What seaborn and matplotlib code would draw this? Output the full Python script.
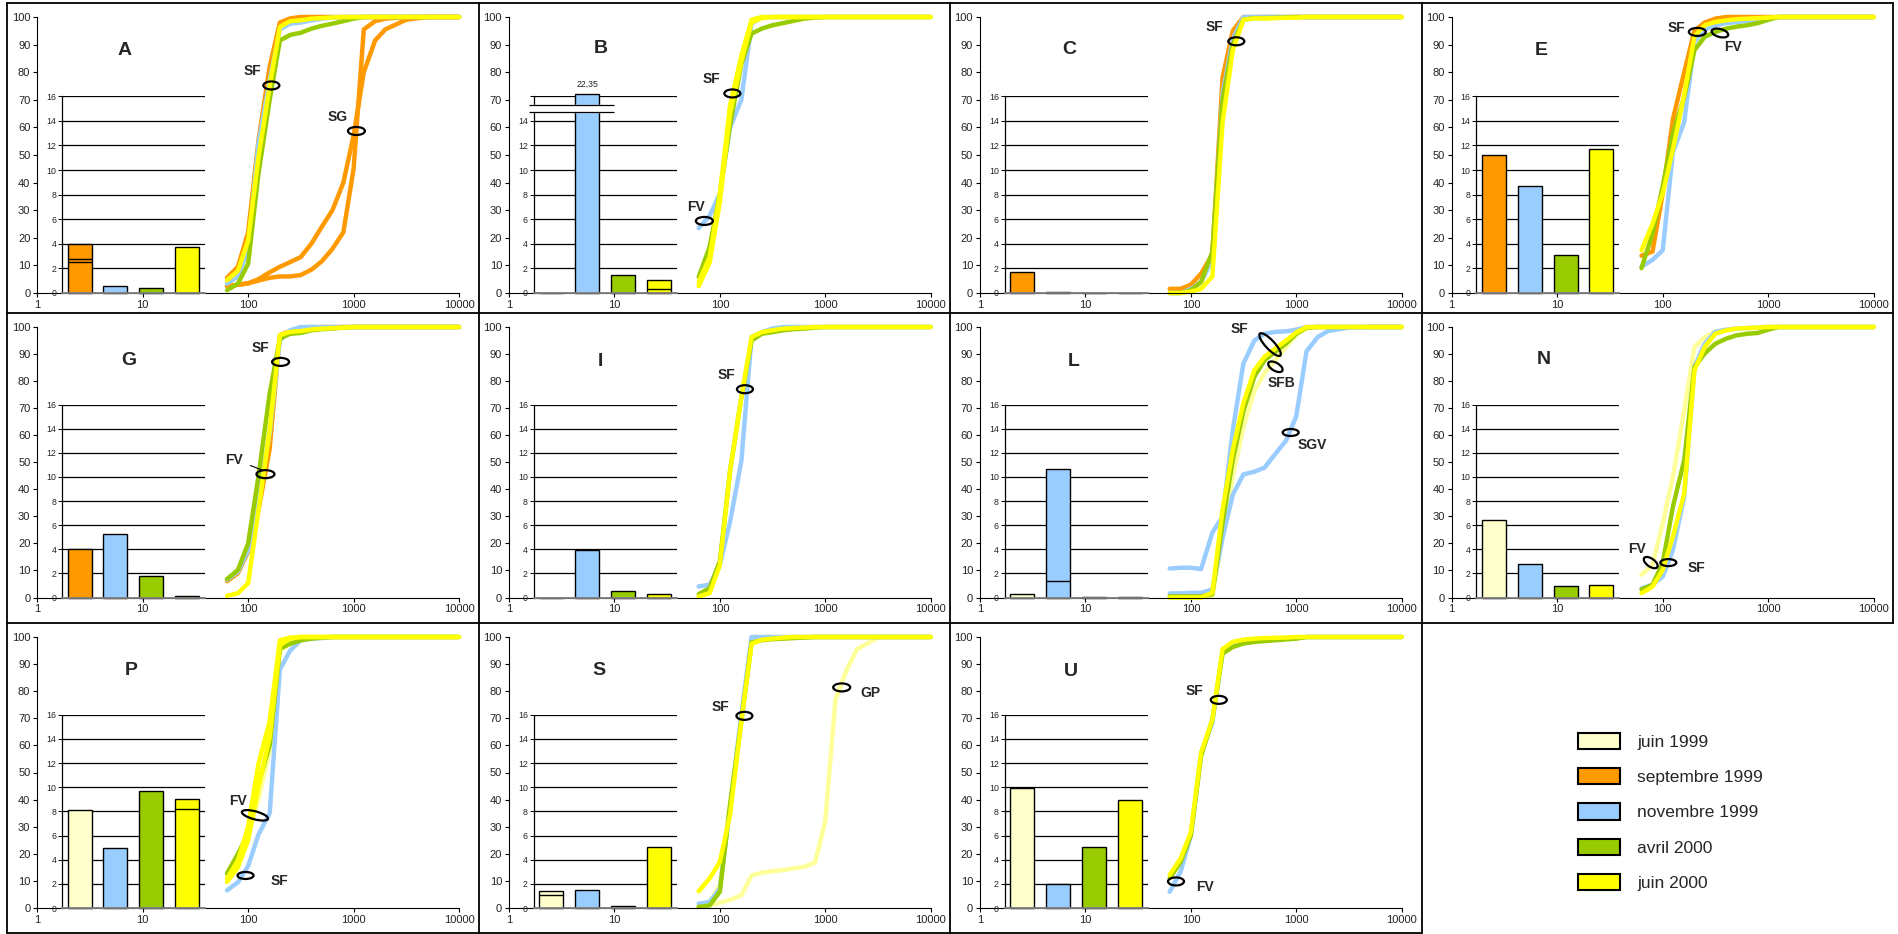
import numpy as np
import matplotlib
matplotlib.use("Agg")
import matplotlib.pyplot as plt
import matplotlib.transforms as mtransforms
from matplotlib.patches import Ellipse, Patch
from matplotlib.lines import Line2D
from matplotlib.ticker import NullLocator
import seaborn as sns

sns.set_theme(style="white")
plt.rcParams["font.family"] = ["Liberation Sans", "DejaVu Sans"]

# === Données : courbes granulométriques cumulées (%) ===
tamis = [63, 80, 100, 125, 160, 200, 250, 315, 400, 500, 630, 800, 1000, 1250, 1600, 2000, 3150, 5000, 10000]

A_sept_SF = [5.5, 9.5, 22, 55, 82, 98, 99.5, 100, 100, 100, 100, 100, 100, 100, 100, 100, 100, 100, 100]
A_sept_SG1 = [2.5, 3, 3.5, 5, 7.5, 9.5, 11.2, 13, 18, 24, 30, 40, 57, 80, 91.5, 95.5, 99, 100, 100]
A_sept_SG2 = [2.5, 3, 3.5, 4.5, 5.5, 6, 6, 6.5, 8.5, 11.5, 16, 22, 45, 95.5, 98.5, 99.4, 100, 100, 100]
A_nov = [3.4, 6, 16, 54, 77, 95.5, 97.6, 98, 98.8, 99.4, 99.8, 100, 100, 100, 100, 100, 100, 100, 100]
A_avr = [1, 3.4, 10.6, 43, 70, 91.5, 93.5, 94.3, 95.8, 96.8, 97.6, 98.5, 99.4, 100, 100, 100, 100, 100, 100]
A_juin00 = [4.6, 8, 19, 49, 75, 96.4, 98.5, 98.8, 99.4, 99.6, 99.8, 100, 100, 100, 100, 100, 100, 100, 100]

B_nov = [23.5, 28, 36, 60, 70, 97.6, 100, 100, 100, 100, 100, 100, 100, 100, 100, 100, 100, 100, 100]
B_avr = [5.8, 16.7, 36, 61, 83, 94, 95.8, 97, 97.8, 98.6, 99.4, 99.8, 100, 100, 100, 100, 100, 100, 100]
B_juin00a = [2.5, 11, 33, 65, 84, 98, 99.6, 100, 100, 100, 100, 100, 100, 100, 100, 100, 100, 100, 100]
B_juin00b = [4, 13, 36, 68, 86, 99, 100, 100, 100, 100, 100, 100, 100, 100, 100, 100, 100, 100, 100]

C_sept = [1.5, 1.5, 3, 7, 14, 78, 95, 100, 100, 100, 100, 100, 100, 100, 100, 100, 100, 100, 100]
C_nov = [0, 0, 1.5, 4, 12, 72, 92, 100, 100, 100, 100, 100, 100, 100, 100, 100, 100, 100, 100]
C_avr = [0, 0, 1, 4, 15, 70, 90, 99, 99.6, 99.6, 99.7, 99.8, 100, 100, 100, 100, 100, 100, 100]
C_juin00 = [0, 0, 0.5, 1.5, 6, 62, 88, 99, 99.5, 99.5, 99.6, 99.7, 99.8, 100, 100, 100, 100, 100, 100]

E_sept = [13.5, 15, 36, 63, 80, 95, 98, 99.4, 100, 100, 100, 100, 100, 100, 100, 100, 100, 100, 100]
E_nov = [9.5, 12, 15.5, 51, 62, 91, 95.5, 97, 97.8, 98.2, 98.6, 99, 99.5, 100, 100, 100, 100, 100, 100]
E_avr = [9, 21.5, 38.6, 57.8, 71, 88, 92.8, 94.6, 95.8, 96.5, 97, 97.8, 99, 100, 100, 100, 100, 100, 100]
E_juin00 = [15.5, 25, 36, 52, 72, 93, 97, 98.2, 98.8, 99.2, 99.4, 99.6, 99.8, 100, 100, 100, 100, 100, 100]

G_sept = [6, 9, 17, 32, 55, 97, 98.5, 99, 99.5, 100, 100, 100, 100, 100, 100, 100, 100, 100, 100]
G_nov = [6.5, 9.6, 17.6, 37, 60.6, 95, 98.8, 100, 100, 100, 100, 100, 100, 100, 100, 100, 100, 100, 100]
G_avr = [6.8, 10.2, 20, 44.6, 75.4, 95.7, 97.5, 97.8, 98.8, 99.2, 99.4, 99.8, 100, 100, 100, 100, 100, 100, 100]
G_juin00 = [0.6, 1.6, 5.3, 32, 62, 97, 98.2, 98.5, 99.1, 99.4, 99.6, 99.8, 100, 100, 100, 100, 100, 100, 100]

I_nov = [4.1, 4.7, 12, 28, 50.5, 96.3, 98.1, 99.4, 100, 100, 100, 100, 100, 100, 100, 100, 100, 100, 100]
I_avr = [1.2, 3.5, 13.4, 46.8, 74, 95, 97.5, 98.1, 98.8, 99.2, 99.4, 99.8, 100, 100, 100, 100, 100, 100, 100]
I_juin00 = [0.4, 1.6, 12, 46.8, 74, 96.3, 98.1, 98.8, 99.4, 99.6, 99.8, 100, 100, 100, 100, 100, 100, 100, 100]

L_juin99 = [0, 0, 0, 0, 0.5, 22.7, 44.8, 63, 76.4, 83, 87.7, 92.6, 97, 99.4, 100, 100, 100, 100, 100]
L_nov_SF = [10.7, 11, 11, 10.5, 24, 30, 62, 86.5, 95, 97.5, 98.2, 98.4, 99, 100, 100, 100, 100, 100, 100]
L_nov_SGV = [1.5, 1.5, 1.7, 1.7, 3, 22, 38, 45.5, 46.5, 48, 53, 58, 67, 91, 96.3, 98.5, 99.8, 100, 100]
L_avr = [0.4, 0.4, 0.4, 0.4, 1.2, 27.6, 51, 69, 81.6, 87.7, 90.8, 93.9, 97.5, 99.8, 100, 100, 100, 100, 100]
L_juin00 = [0, 0, 0, 0, 1.8, 32.5, 54.6, 71.8, 84, 89, 92, 95, 98, 100, 100, 100, 100, 100, 100]

N_juin99 = [8.4, 12, 27.4, 44.6, 69, 92.6, 96.3, 98.2, 99, 99.4, 99.6, 99.8, 100, 100, 100, 100, 100, 100, 100]
N_nov = [3.4, 4.7, 7.7, 17.6, 37.3, 85.2, 93.8, 98.2, 99, 99.4, 99.6, 99.8, 100, 100, 100, 100, 100, 100, 100]
N_avr = [3, 4.7, 12.7, 33.6, 50.8, 85.2, 90.2, 93.8, 95.7, 96.9, 97.5, 97.8, 99, 100, 100, 100, 100, 100, 100]
N_juin00 = [1.6, 4, 10.2, 22.5, 38.5, 84, 92.6, 97.5, 98.8, 99.4, 99.6, 99.8, 100, 100, 100, 100, 100, 100, 100]

P_juin99 = [11.4, 17.6, 27, 40, 58, 95, 97.5, 98.8, 99.4, 99.8, 100, 100, 100, 100, 100, 100, 100, 100, 100]
P_nov = [6.5, 9.5, 15.5, 27, 35, 88, 95, 98.8, 99.4, 99.6, 100, 100, 100, 100, 100, 100, 100, 100, 100]
P_avr = [12.7, 20, 27.4, 46, 60, 95.7, 97.5, 98.8, 99.4, 99.8, 100, 100, 100, 100, 100, 100, 100, 100, 100]
P_juin00a = [10.8, 17.6, 30, 53, 69, 98.8, 99.8, 100, 100, 100, 100, 100, 100, 100, 100, 100, 100, 100, 100]
P_juin00b = [9.6, 15, 25, 44.6, 63, 97, 99.4, 100, 100, 100, 100, 100, 100, 100, 100, 100, 100, 100, 100]

S_juin99_SF = [1, 2.2, 8.4, 39, 70, 97.5, 99, 99.4, 99.8, 100, 100, 100, 100, 100, 100, 100, 100, 100, 100]
S_juin99_GP = [0.5, 1, 2, 3, 4.7, 12, 13, 13.6, 14, 14.6, 15.2, 16.8, 32, 77, 88, 95.5, 99.8, 100, 100]
S_nov = [1.6, 2.2, 7.2, 37, 71.5, 100, 100, 100, 100, 100, 100, 100, 100, 100, 100, 100, 100, 100, 100]
S_avr = [0.4, 1, 6, 38, 69, 98, 98.8, 99.2, 99.4, 99.6, 99.8, 100, 100, 100, 100, 100, 100, 100, 100]
S_juin00 = [6.2, 10.9, 17, 34.4, 69, 97.5, 99, 99.4, 99.8, 100, 100, 100, 100, 100, 100, 100, 100, 100, 100]

U_nov = [6, 13.4, 26.8, 57.3, 68.3, 95, 97.6, 98.2, 98.8, 99, 99.2, 99.4, 99.6, 100, 100, 100, 100, 100, 100]
U_avr = [11, 17, 26.8, 56, 69.5, 93.9, 96.3, 97.6, 98.2, 98.5, 98.8, 99.1, 99.4, 100, 100, 100, 100, 100, 100]
U_juin00 = [12.2, 18.3, 28, 57.3, 69.5, 95.6, 98.2, 99, 99.4, 99.6, 99.7, 99.8, 100, 100, 100, 100, 100, 100, 100]

# === Données : histogrammes (encart 0-16) ===
barres_A = [4.0, 0.54, 0.43, 3.71]
barres_B = [0, 22.35, 1.46, 1.06]
barres_C = [1.7, 0.05, 0, 0]
barres_E = [11.24, 8.73, 3.05, 11.67]
barres_G = [4.0, 5.3, 1.8, 0.14]
barres_I = [0, 3.93, 0.5, 0.25]
barres_L = [0.25, 10.67, 0.05, 0.05]
barres_N = [6.42, 2.78, 0.92, 1.03]
barres_P = [8.14, 4.94, 9.69, 9.03]
barres_S = [1.43, 1.49, 0.2, 5.06]
barres_U = [9.97, 1.98, 5.03, 8.96]

# traits internes (cumul de plusieurs échantillons)
traits_A = [[2.49, 2.76], [], [], []]
traits_B = [[], [], [], [0.3]]
traits_L = [[], [1.36], [], []]
traits_P = [[], [], [], [8.17]]
traits_S = [[1.1], [], [], []]
aucun = [[], [], [], []]

dates = ["juin 1999", "septembre 1999", "novembre 1999", "avril 2000", "juin 2000"]
cles = ["juin99", "sept99", "nov99", "avr00", "juin00"]
couleurs = {"juin99": "#FFFFCC", "sept99": "#FF9900", "nov99": "#99CCFF", "avr00": "#99CC00", "juin00": "#FFFF00"}
couleurs_ligne = dict(couleurs, juin99="#FFFF99")

# === Mise en page (pixels) ===
W, H = 1899, 934
fig = plt.figure(figsize=(W / 100, H / 100), dpi=100)
fig.patch.set_facecolor("white")


def rect(x0, y0, x1, y1):
    return [x0 / W, 1 - y1 / H, (x1 - x0) / W, (y1 - y0) / H]


colonnes = [(37.3, 459.0), (509.0, 930.7), (980.0, 1401.7), (1451.7, 1873.7)]
rangees = [(17.0, 293.0), (327.0, 597.5), (637.0, 908.0)]


def panneau(lettre, col, rang, barres, premier, traits, courbes, pos_lettre, textes, ovales, coupe=False):
    x0, x1 = colonnes[col]
    y0, y1 = rangees[rang]
    ax = fig.add_axes(rect(x0, y0, x1, y1))
    ax.set_facecolor("none")
    ax.set_xscale("log")
    for cle, valeurs in courbes:
        sns.lineplot(x=tamis, y=valeurs, ax=ax, color=couleurs_ligne[cle], linewidth=3.2,
                     estimator=None, sort=False)
    for ligne in ax.lines:
        ligne.set_clip_on(False)
        ligne.set_solid_joinstyle("round")
    ax.set_xlim(1, 10000)
    ax.set_ylim(0, 100)
    ax.set_xticks([1, 10, 100, 1000, 10000], ["1", "10", "100", "1000", "10000"])
    ax.xaxis.set_minor_locator(NullLocator())
    ax.set_yticks(range(0, 101, 10))
    ax.set_xlabel("")
    ax.set_ylabel("")
    for s in ["top", "right"]:
        ax.spines[s].set_visible(False)
    for s in ["left", "bottom"]:
        ax.spines[s].set_color("black")
        ax.spines[s].set_linewidth(0.8)
    ax.tick_params(axis="both", direction="out", length=3, width=0.8, color="black",
                   labelsize=8, labelcolor="#222222", pad=2, left=True, bottom=True)

    ax.text(*pos_lettre, lettre, fontsize=14, fontweight="bold", ha="center", va="center")
    for t, x, y in textes:
        ax.text(x, y, t, fontsize=10, fontweight="bold", ha="center", va="center")
    for x, y, w, h, ang in ovales:
        tr = fig.dpi_scale_trans + mtransforms.ScaledTranslation(x, y, ax.transData)
        ax.add_artist(Ellipse((0, 0), w / 100, h / 100, angle=ang, fill=False,
                              ec="black", lw=1.6, transform=tr, clip_on=False, zorder=6))

    # encart histogramme
    hi = 0.713 * (y1 - y0)
    axi = fig.add_axes(rect(x0 + 24.5, y1 - hi, x0 + 24.5 + 143, y1))
    axi.set_facecolor("none")
    cats = ["a", "b", "c", "d"]
    pal = [couleurs[premier], couleurs["nov99"], couleurs["avr00"], couleurs["juin00"]]
    hauteurs = np.minimum(barres, 16.2)
    sns.barplot(x=cats, y=hauteurs, hue=cats, palette=pal, legend=False, ax=axi,
                width=0.67, saturation=1, edgecolor="black", linewidth=1.0)
    for p in axi.patches:
        p.set_clip_on(False)
    for i, niveaux in enumerate(traits):
        for v in niveaux:
            axi.hlines(v, i - 0.335, i + 0.335, color="black", lw=1.0, zorder=4)
    axi.set_xlim(-0.5, 3.5)
    axi.set_ylim(0, 16)
    axi.set_yticks(range(0, 17, 2))
    if coupe:
        axi.set_yticklabels([str(v) for v in range(0, 15, 2)] + [""])
    axi.set_xticks([])
    axi.set_xlabel("")
    axi.set_ylabel("")
    axi.set_axisbelow(True)
    axi.yaxis.grid(True, color="black", lw=0.9)
    for s in ["top", "right"]:
        axi.spines[s].set_visible(False)
    axi.spines["left"].set_color("black")
    axi.spines["left"].set_linewidth(0.9)
    axi.spines["bottom"].set_color("#808080")
    axi.spines["bottom"].set_linewidth(1.3)
    axi.tick_params(axis="y", direction="out", length=3, width=0.7, color="black",
                    labelsize=6.3, labelcolor="#222222", pad=1, left=True)
    if coupe:
        axi.fill_between([-0.62, 1.75], 14.7, 15.3, color="white", zorder=5, clip_on=False)
        axi.hlines([14.7, 15.3], -0.62, 1.75, color="black", lw=0.9, zorder=6, clip_on=False)
        axi.text(1, 17.0, f"{barres[1]:.2f}".replace(".", ","), fontsize=6.3,
                 ha="center", va="center", color="#222222")
    return ax


axA = panneau("A", 0, 0, barres_A, "sept99", traits_A,
              [("sept99", A_sept_SG1), ("sept99", A_sept_SG2), ("sept99", A_sept_SF),
               ("nov99", A_nov), ("avr00", A_avr), ("juin00", A_juin00)],
              (6.8, 88), [("SF", 109, 80.4), ("SG", 703, 63.8)],
              [(166, 75.2, 16, 8, 0), (1064, 58.7, 17, 8, 0)])
panneau("B", 1, 0, barres_B, "sept99", traits_B,
        [("nov99", B_nov), ("avr00", B_avr), ("juin00", B_juin00a), ("juin00", B_juin00b)],
        (7.46, 88.5), [("SF", 82.4, 77.5), ("FV", 59, 31.3)],
        [(131.4, 72.3, 16, 8, 0), (71.3, 26.1, 17, 8, 0)], coupe=True)
panneau("C", 2, 0, barres_C, "sept99", aucun,
        [("sept99", C_sept), ("nov99", C_nov), ("avr00", C_avr), ("juin00", C_juin00)],
        (7.0, 88.3), [("SF", 167, 96.4)], [(270, 91.2, 16, 8, 0)])
panneau("E", 3, 0, barres_E, "sept99", aucun,
        [("sept99", E_sept), ("nov99", E_nov), ("avr00", E_avr), ("juin00", E_juin00)],
        (7.1, 88), [("SF", 134, 96.1), ("FV", 468, 89.2)],
        [(213, 94.6, 17, 8, 0), (349, 94.2, 17, 8, -15)])
axG = panneau("G", 0, 1, barres_G, "sept99", aucun,
              [("sept99", G_sept), ("nov99", G_nov), ("avr00", G_avr), ("juin00", G_juin00)],
              (7.3, 87.7), [("SF", 132, 92.2), ("FV", 73.8, 50.8)],
              [(203, 87.1, 17, 8, 0), (146, 45.6, 18, 8, 0)])
axG.plot([105, 138], [48.8, 47], color="black", lw=0.8)
panneau("I", 1, 1, barres_I, "sept99", aucun,
        [("nov99", I_nov), ("avr00", I_avr), ("juin00", I_juin00)],
        (7.4, 87.3), [("SF", 114.5, 82.3)], [(173, 77, 16, 8, 0)])
panneau("L", 2, 1, barres_L, "juin99", traits_L,
        [("juin99", L_juin99), ("nov99", L_nov_SF), ("nov99", L_nov_SGV), ("avr00", L_avr), ("juin00", L_juin00)],
        (7.7, 87.4), [("SF", 288, 99.1), ("SFB", 728, 79.4), ("SGV", 1431, 56.4)],
        [(564, 93.5, 30, 9, -47), (634, 85.3, 16, 8, -30), (885, 61, 16, 7, 0)])
panneau("N", 3, 1, barres_N, "juin99", aucun,
        [("juin99", N_juin99), ("nov99", N_nov), ("avr00", N_avr), ("juin00", N_juin00)],
        (7.4, 88), [("FV", 56.7, 17.8), ("SF", 210, 10.8)],
        [(77, 12.9, 16, 8, -35), (113, 12.9, 16, 7, 0)])
panneau("P", 0, 2, barres_P, "juin99", traits_P,
        [("juin99", P_juin99), ("nov99", P_nov), ("avr00", P_avr), ("juin00", P_juin00a), ("juin00", P_juin00b)],
        (7.7, 87.7), [("FV", 80.5, 39.4), ("SF", 197, 10)],
        [(116, 34.2, 27, 8, -15), (94.5, 12, 16, 7, 0)])
panneau("S", 1, 2, barres_S, "juin99", traits_S,
        [("juin99", S_juin99_GP), ("juin99", S_juin99_SF), ("nov99", S_nov), ("avr00", S_avr), ("juin00", S_juin00)],
        (7.1, 87.6), [("SF", 102, 74), ("GP", 2660, 79.3)],
        [(171, 70.9, 16, 8, 0), (1432, 81.4, 17, 8, 0)])
panneau("U", 2, 2, barres_U, "juin99", aucun,
        [("nov99", U_nov), ("avr00", U_avr), ("juin00", U_juin00)],
        (7.3, 87.4), [("SF", 109, 79.9), ("FV", 136, 7.9)],
        [(184, 76.8, 16, 8, 0), (72.3, 9.8, 16, 8, 0)])

# === Cadres des panneaux ===
def trait(xa, ya, xb, yb):
    fig.add_artist(Line2D([xa / W, xb / W], [1 - ya / H, 1 - yb / H], transform=fig.transFigure,
                          color="black", lw=1.3))


trait(7, 3, 1893, 3)
trait(7, 313, 1893, 313)
trait(7, 623, 1893, 623)
trait(7, 933, 1422, 933)
for xv in [7, 479, 950, 1422]:
    trait(xv, 3, xv, 933)
trait(1893, 3, 1893, 623)

# === Légende ===
poignees = [Patch(facecolor=couleurs[k], edgecolor="black", linewidth=1.5) for k in cles]
fig.legend(poignees, dates, loc="upper left", bbox_to_anchor=(1578 / W, 1 - 733 / H),
           frameon=False, fontsize=12.5, handlelength=2.4, handleheight=1.05,
           labelspacing=1.05, handletextpad=1.0, borderpad=0, borderaxespad=0)

fig.savefig("out.png", dpi=100, facecolor="white")
